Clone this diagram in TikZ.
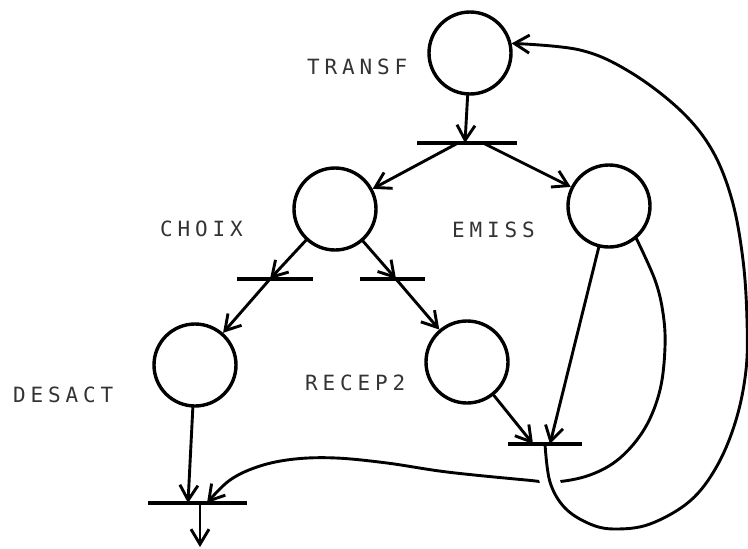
\documentclass[tikz,border=0pt]{standalone}
\usepackage{fontspec}
\newfontfamily\plotfont[LetterSpace=23]{DejaVu Sans Mono}
\usetikzlibrary{arrows.meta}
\newcommand\bigloopcoords{([xshift=0pt]t4.center) (550,482) (565,508) (590,524) (615,529) (650,524) (690,501) (717,466) (736,420) (746,370) (747,320) (743,260) (732,200) (712,150) (680,110) (630,72) (580,50) (transf.13)}
\begin{document}
\begin{tikzpicture}[x=1pt,y=-1pt,
  place/.style={circle,draw,line width=3.4pt,minimum size=82pt,inner sep=0pt},
  trans/.style={fill=black,inner sep=0pt,minimum height=4.5pt},
  arc/.style={line width=2.9pt,line cap=round,-{Straight Barb[length=15pt,width=18pt]}},
  lab/.style={font=\plotfont\fontsize{21}{21}\selectfont,anchor=west,inner sep=0pt,text=black!80}]
\useasboundingbox (0,0) rectangle (748,549);
% places
\node[place] (transf) at (470,53) {};
\node[place] (choix) at (335,209) {};
\node[place] (emiss) at (609,206) {};
\node[place] (desact) at (195,365) {};
\node[place] (recep) at (467,362) {};
% transitions
\node[trans,minimum width=100pt] (t1) at (467,143) {};
\node[trans,minimum width=76pt] (t2) at (275,279) {};
\node[trans,minimum width=65pt] (t3) at (392.5,279) {};
\node[trans,minimum width=74pt] (t4) at (545,444) {};
\node[trans,minimum width=99pt] (t5) at (197.5,503) {};
\coordinate (out) at (200,547);
% labels
\node[lab] (ltransf) at (307,67) {TRANSF};
\node[lab] (lchoix) at (160,229) {CHOIX};
\node[lab] (lemiss) at (452,230) {EMISS};
\node[lab] (ldesact) at (13,395) {DESACT};
\node[lab] (lrecep) at (305,383) {RECEP2};
% arcs
\draw[arc] (transf) -- ([xshift=-2pt]t1.center);
\draw[arc] ([xshift=-9pt]t1.center) -- (choix);
\draw[arc] ([xshift=16pt]t1.center) -- (emiss);
\draw[arc] (choix) -- ([xshift=-5pt]t2.center);
\draw[arc] ([xshift=-5pt]t2.center) -- (desact);
\draw[arc] (choix) -- ([xshift=3.5pt]t3.center);
\draw[arc] ([xshift=3.5pt]t3.center) -- (recep);
\draw[arc] (recep) -- ([xshift=-12pt]t4.center);
\draw[arc] (emiss) -- ([xshift=5pt]t4.center);
\draw[arc] (desact) -- ([xshift=-9.5pt]t5.center);
\draw[arc] ([xshift=2.5pt]t5.center) -- (out);
% EMISS -> T5
\draw[arc] plot[smooth,tension=0.6] coordinates {(emiss.-50) (655,280) (663,313) (665,347) (660,390) (645,428) (620,458) (590,475) (555,482) (526,480) (447,472) (387,463) (336,458) (295,459) (260,466) (230,480) ([xshift=9.5pt]t5.center)};
% gap at crossing
\begin{scope}
\clip (532,468) rectangle (568,496);
\draw[white,line width=20pt] plot[smooth,tension=0.6] coordinates {\bigloopcoords};
\end{scope}
% T4 -> TRANSF
\draw[arc] plot[smooth,tension=0.6] coordinates {\bigloopcoords};
\end{tikzpicture}
\end{document}
